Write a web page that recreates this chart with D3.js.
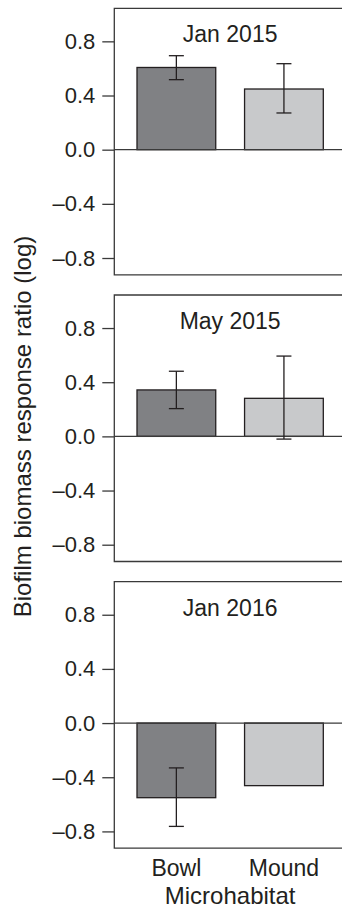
<!DOCTYPE html>
<html>
<head>
<meta charset="utf-8">
<script src="https://cdn.jsdelivr.net/npm/d3@7"></script>
<style>
  html, body { margin: 0; padding: 0; background: #fff; }
  svg { display: block; }
  text { font-family: "Liberation Sans", Arial, sans-serif; fill: #231f20; }
</style>
</head>
<body>
<svg id="chart" width="342" height="913"></svg>
<script>
// ---- data ----
const categories = ["Bowl", "Mound"];
const panelTitles = ["Jan 2015", "May 2015", "Jan 2016"];
const bowlMean  = [0.607, 0.343, -0.551];
const bowlLow   = [0.517, 0.205, -0.763];
const bowlHigh  = [0.694, 0.481, -0.331];
const moundMean = [0.448, 0.281, -0.462];
const moundLow  = [0.271, -0.020, null];
const moundHigh = [0.635, 0.593, null];
const tickValues = [-0.8, -0.4, 0, 0.4, 0.8];
const tickLabels = ["\u20130.8", "\u20130.4", "0.0", "0.4", "0.8"];
const yLabel = "Biofilm biomass response ratio (log)";
const xLabel = "Microhabitat";

// ---- layout ----
const svg = d3.select("#chart");
const plotLeft = 114.3, plotRight = 346;
const panelTops = [8.3, 295, 581.7];
const panelH = 266.5;
const colors = { Bowl: "#808184", Mound: "#c8c9cb" };
const ink = "#231f20";
const lineCol = "#3a3a3a";

const x = d3.scaleBand().domain(categories).range([plotLeft, plotRight])
  .paddingInner(0.268).paddingOuter(0.211);

panelTitles.forEach((title, i) => {
  const top = panelTops[i];
  const y = d3.scaleLinear().domain([-0.924, 1.044]).range([top + panelH, top]);
  const g = svg.append("g");

  const rows = categories.map(c => ({
    cat: c,
    mean: c === "Bowl" ? bowlMean[i] : moundMean[i],
    lo: c === "Bowl" ? bowlLow[i] : moundLow[i],
    hi: c === "Bowl" ? bowlHigh[i] : moundHigh[i]
  }));

  // bars
  g.selectAll("rect.bar").data(rows).enter().append("rect")
    .attr("class", "bar")
    .attr("x", d => x(d.cat))
    .attr("width", x.bandwidth())
    .attr("y", d => y(Math.max(0, d.mean)))
    .attr("height", d => Math.abs(y(d.mean) - y(0)))
    .attr("fill", d => colors[d.cat])
    .attr("stroke", ink)
    .attr("stroke-width", 1.3);

  // zero line
  g.append("line")
    .attr("x1", plotLeft).attr("x2", plotRight)
    .attr("y1", y(0)).attr("y2", y(0))
    .attr("stroke", lineCol).attr("stroke-width", 1.3);

  // error bars
  const eb = rows.filter(d => d.lo !== null);
  const cap = 7.5;
  eb.forEach(d => {
    const cx = x(d.cat) + x.bandwidth() / 2;
    g.append("line").attr("x1", cx).attr("x2", cx)
      .attr("y1", y(d.lo)).attr("y2", y(d.hi))
      .attr("stroke", ink).attr("stroke-width", 1.3);
    [d.lo, d.hi].forEach(v => {
      g.append("line").attr("x1", cx - cap).attr("x2", cx + cap)
        .attr("y1", y(v)).attr("y2", y(v))
        .attr("stroke", ink).attr("stroke-width", 1.3);
    });
  });

  // frame (left, top, bottom)
  g.append("path")
    .attr("d", `M${plotRight},${top}H${plotLeft}V${top + panelH}H${plotRight}`)
    .attr("fill", "none").attr("stroke", lineCol).attr("stroke-width", 1.3);

  // y axis
  const axis = d3.axisLeft(y).tickValues(tickValues)
    .tickSize(12).tickPadding(7)
    .tickFormat(d => tickLabels[tickValues.indexOf(d)]);
  const ag = g.append("g").attr("transform", `translate(${plotLeft},0)`).call(axis);
  ag.select(".domain").remove();
  ag.selectAll(".tick line").attr("stroke", lineCol).attr("stroke-width", 1.3);
  ag.selectAll(".tick text").attr("font-size", 22).attr("fill", ink)
    .style("font-family", '"Liberation Sans", Arial, sans-serif');

  // panel title
  g.append("text")
    .attr("x", (plotLeft + plotRight) / 2)
    .attr("y", top + 34)
    .attr("text-anchor", "middle")
    .attr("font-size", 23)
    .text(title);

  // x category labels on the last panel
  if (i === panelTitles.length - 1) {
    g.selectAll("text.cat").data(categories).enter().append("text")
      .attr("class", "cat")
      .attr("x", d => x(d) + x.bandwidth() / 2)
      .attr("y", 876)
      .attr("text-anchor", "middle")
      .attr("font-size", 23)
      .text(d => d);
  }
});

// axis titles
svg.append("text")
  .attr("x", (plotLeft + plotRight) / 2)
  .attr("y", 904)
  .attr("text-anchor", "middle")
  .attr("font-size", 24)
  .text(xLabel);

svg.append("text")
  .attr("transform", "translate(31,426.5) rotate(-90)")
  .attr("text-anchor", "middle")
  .attr("font-size", 24)
  .text(yLabel);
</script>
</body>
</html>
